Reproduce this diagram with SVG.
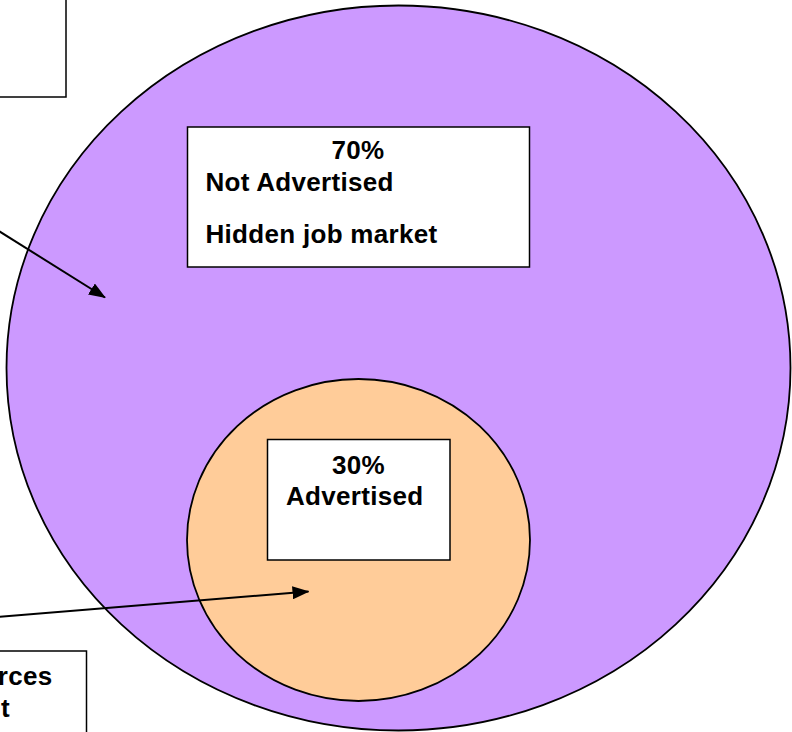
<svg xmlns="http://www.w3.org/2000/svg" width="792" height="732" viewBox="0 0 792 732">
<style>
.box{fill:#ffffff;stroke:#000;stroke-width:1.5}
.t{font-family:"Liberation Sans",Arial,sans-serif;font-weight:bold;font-size:26px;letter-spacing:0.3px;fill:#000}
.c{stroke:#000;stroke-width:2;fill:none;marker-end:url(#ah)}
</style>
<defs>
<marker id="ah" markerWidth="17" markerHeight="13" refX="16" refY="6.5" orient="auto" markerUnits="userSpaceOnUse">
<path d="M0,0 L17,6.5 L0,13 Z" fill="#000"/>
</marker>
</defs>
<rect width="792" height="732" fill="#fff"/>
<g id="outer">
<ellipse cx="398.5" cy="368" rx="392" ry="362.5" fill="#CC99FF" stroke="#000" stroke-width="1.8"/>
</g>
<g id="inner">
<ellipse cx="358.5" cy="540" rx="171.5" ry="161" fill="#FFCC99" stroke="#000" stroke-width="1.8"/>
</g>
<g id="box-topleft">
<rect class="box" x="-10" y="-10" width="76" height="107"/>
</g>
<g id="box-bottomleft">
<rect class="box" x="-10" y="651" width="96.5" height="100"/>
<text class="t" x="52.5" y="685" text-anchor="end">rces</text>
<text class="t" x="10" y="717" text-anchor="end">t</text>
</g>
<g id="box-hidden">
<rect class="box" x="187.5" y="127" width="342" height="140"/>
<text class="t" x="358" y="159" text-anchor="middle">70%</text>
<text class="t" x="205.5" y="191">Not Advertised</text>
<text class="t" x="205.5" y="243">Hidden job market</text>
</g>
<g id="box-advertised">
<rect class="box" x="267.5" y="439.5" width="182.5" height="120.5"/>
<text class="t" x="358.5" y="474" text-anchor="middle">30%</text>
<text class="t" x="286" y="505">Advertised</text>
</g>
<g id="connectors">
<line class="c" x1="-10" y1="225.5" x2="105" y2="297.5"/>
<line class="c" x1="-10" y1="617.5" x2="308.5" y2="591.5"/>
</g>
</svg>
